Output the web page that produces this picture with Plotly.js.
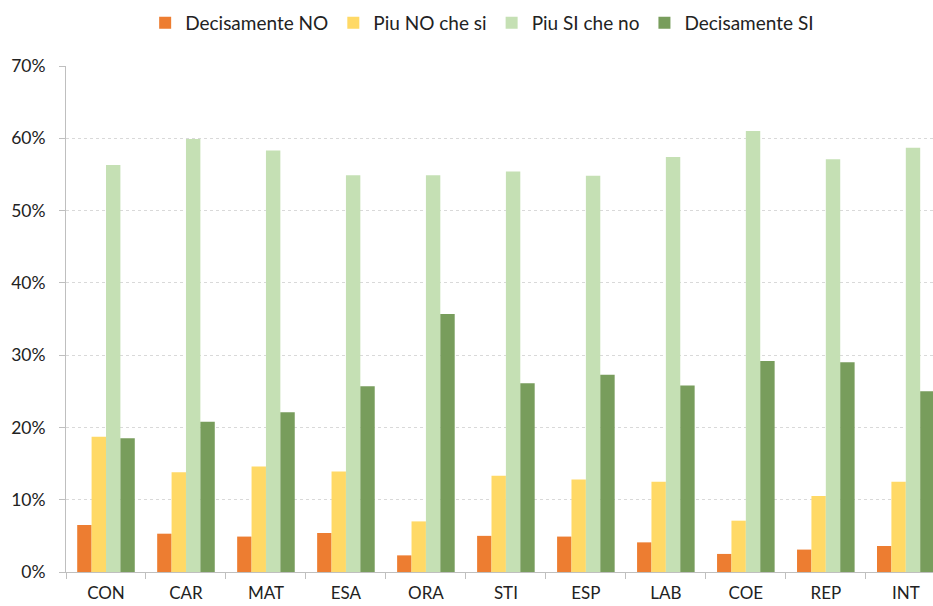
<!DOCTYPE html>
<html>
<head>
<meta charset="utf-8">
<script src="https://cdn.plot.ly/plotly-3.0.1.min.js"></script>
<style>html,body{margin:0;padding:0;background:#fff;}#chart{width:933px;height:606px;}</style>
</head>
<body>
<div id="chart"></div>
<script>
const categories = ["CON","CAR","MAT","ESA","ORA","STI","ESP","LAB","COE","REP","INT"];
const seriesNames = ["Decisamente NO","Piu NO che si","Piu SI che no","Decisamente SI"];
const decisamenteNo = [6.5, 5.3, 4.9, 5.4, 2.3, 5.0, 4.9, 4.1, 2.5, 3.1, 3.6];
const piuNoCheSi   = [18.7, 13.8, 14.6, 13.9, 7.0, 13.3, 12.8, 12.5, 7.1, 10.5, 12.5];
const piuSiCheNo   = [56.3, 59.9, 58.3, 54.9, 54.9, 55.4, 54.8, 57.4, 61.0, 57.1, 58.7];
const decisamenteSi = [18.5, 20.8, 22.1, 25.7, 35.7, 26.1, 27.3, 25.8, 29.2, 29.0, 25.0];
const yTickVals = [0,10,20,30,40,50,60,70];
const yTickText = ["0%","10%","20%","30%","40%","50%","60%","70%"];

const colors = ["#ED7D31","#FFD966","#C5E0B4","#789D5C"];
const values = [decisamenteNo, piuNoCheSi, piuSiCheNo, decisamenteSi];

const traces = values.map((v,i)=>({
  type:"bar", name: seriesNames[i], x: categories, y: v,
  marker:{color: colors[i], line:{width:0}},
  hoverinfo:"x+y"
}));

const fam = "Lato, 'Open Sans', sans-serif";

const layout = {
  width:933, height:606,
  margin:{l:66, r:0, t:66, b:34, pad:0, autoexpand:false},
  paper_bgcolor:"#fff", plot_bgcolor:"#fff",
  barmode:"group", bargap:0.28, bargroupgap:0,
  font:{family:fam, size:17, color:"#222"},
  showlegend:true,
  legend:{orientation:"h", x:0.48, xanchor:"center", y:1.085, yanchor:"middle",
          font:{family:fam, size:19, color:"#222"}, itemwidth:30, traceorder:"normal"},
  xaxis:{
    type:"category", range:[-0.5, 10.34],
    showline:true, linecolor:"#bfbfbf", linewidth:1,
    ticks:"outside", tickson:"boundaries", ticklen:6, tickcolor:"#bfbfbf",
    showgrid:false, tickfont:{family:fam, size:17, color:"#222"},
    ticklabelstandoff:6, fixedrange:true
  },
  yaxis:{
    range:[0,70], tickvals:yTickVals, ticktext:yTickText,
    showline:true, linecolor:"#bfbfbf", linewidth:1,
    ticks:"outside", ticklen:6, tickcolor:"#bfbfbf",
    showgrid:true, gridcolor:"#d9d9d9", griddash:"dot", gridwidth:1,
    zeroline:false, tickfont:{family:fam, size:17.5, color:"#222"},
    ticklabelstandoff:10, fixedrange:true
  }
};

Plotly.newPlot("chart", traces, layout, {displayModeBar:false, staticPlot:true});
</script>
</body>
</html>
